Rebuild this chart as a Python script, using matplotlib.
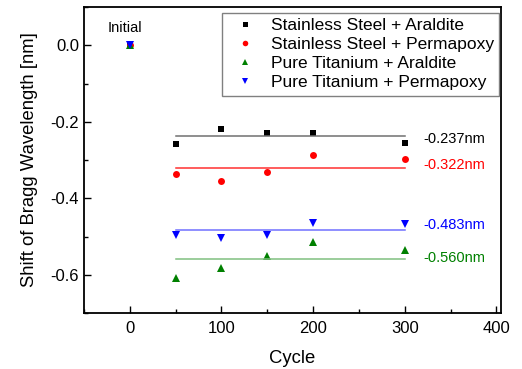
import matplotlib
matplotlib.use("Agg")
import matplotlib.pyplot as plt
from matplotlib.ticker import MultipleLocator

plt.rcParams['font.family'] = ['Liberation Sans', 'DejaVu Sans']

cycles = [50, 100, 150, 200, 300]
ss_araldite = [-0.257, -0.218, -0.230, -0.230, -0.256]
ss_permapoxy = [-0.337, -0.356, -0.331, -0.287, -0.298]
ti_araldite = [-0.609, -0.582, -0.551, -0.514, -0.534]
ti_permapoxy = [-0.495, -0.505, -0.497, -0.464, -0.467]
means = [-0.237, -0.322, -0.560, -0.483]
mean_labels = ["-0.237nm", "-0.322nm", "-0.560nm", "-0.483nm"]
names = ["Stainless Steel + Araldite", "Stainless Steel + Permapoxy",
         "Pure Titanium + Araldite", "Pure Titanium + Permapoxy"]
colors = ["black", "red", "green", "blue"]
line_colors = ["#707070", "#ff3030", "#80c080", "#7070ff"]
markers = ["s", "o", "^", "v"]
msizes = [4.5, 5.0, 6.0, 6.0]
series = [ss_araldite, ss_permapoxy, ti_araldite, ti_permapoxy]
label_y = [-0.244, -0.313, -0.556, -0.469]

fig = plt.figure(figsize=(5.22, 3.69), dpi=100)
ax = fig.add_axes([84/522, 1-313/369, (501-84)/522, (313-7)/369])

for ys, c, lc, m, ms, n, mu, ml, ly in zip(series, colors, line_colors, markers, msizes,
                                           names, means, mean_labels, label_y):
    ax.plot(cycles, ys, linestyle='none', marker=m, color=c, markersize=ms,
            markeredgewidth=0, label=n)
    ax.plot([0], [0], linestyle='none', marker=m, color=c, markersize=ms, markeredgewidth=0)
    ax.plot([cycles[0], cycles[-1]], [mu, mu], color=lc, lw=1.1)
    ax.text(320, ly, ml, color=c, fontsize=10.5, va='center', ha='left')

ax.text(-5, 0.046, "Initial", ha='center', va='center', fontsize=10.5)

ax.set_xlim(-50, 405)
ax.set_ylim(-0.7, 0.1)
ax.xaxis.set_major_locator(MultipleLocator(100))
ax.xaxis.set_minor_locator(MultipleLocator(50))
ax.yaxis.set_major_locator(MultipleLocator(0.2))
ax.yaxis.set_minor_locator(MultipleLocator(0.1))
ax.tick_params(which='both', direction='in', top=False, right=False, labelsize=12)
ax.tick_params(axis='x', which='major', pad=6)
ax.tick_params(which='major', length=5, width=1)
ax.tick_params(which='minor', length=3, width=1)
ax.set_yticks([0.0, -0.2, -0.4, -0.6])
ax.set_yticklabels(["0.0", "-0.2", "-0.4", "-0.6"])
for s in ax.spines.values():
    s.set_linewidth(1.3)

ax.set_xlabel("Cycle", fontsize=13.3, labelpad=10)
ax.set_ylabel("Shift of Bragg Wavelength [nm]", fontsize=13.3, labelpad=9)

leg = ax.legend(loc='upper right', bbox_to_anchor=(0.995, 0.98), fontsize=12.5,
                frameon=True, fancybox=False, edgecolor='#606060',
                borderpad=0.3, labelspacing=0.22, handletextpad=0.5,
                borderaxespad=0.0, handlelength=2.0, markerscale=0.8)
leg.get_frame().set_linewidth(1.0)

fig.savefig("out.png", dpi=100)
